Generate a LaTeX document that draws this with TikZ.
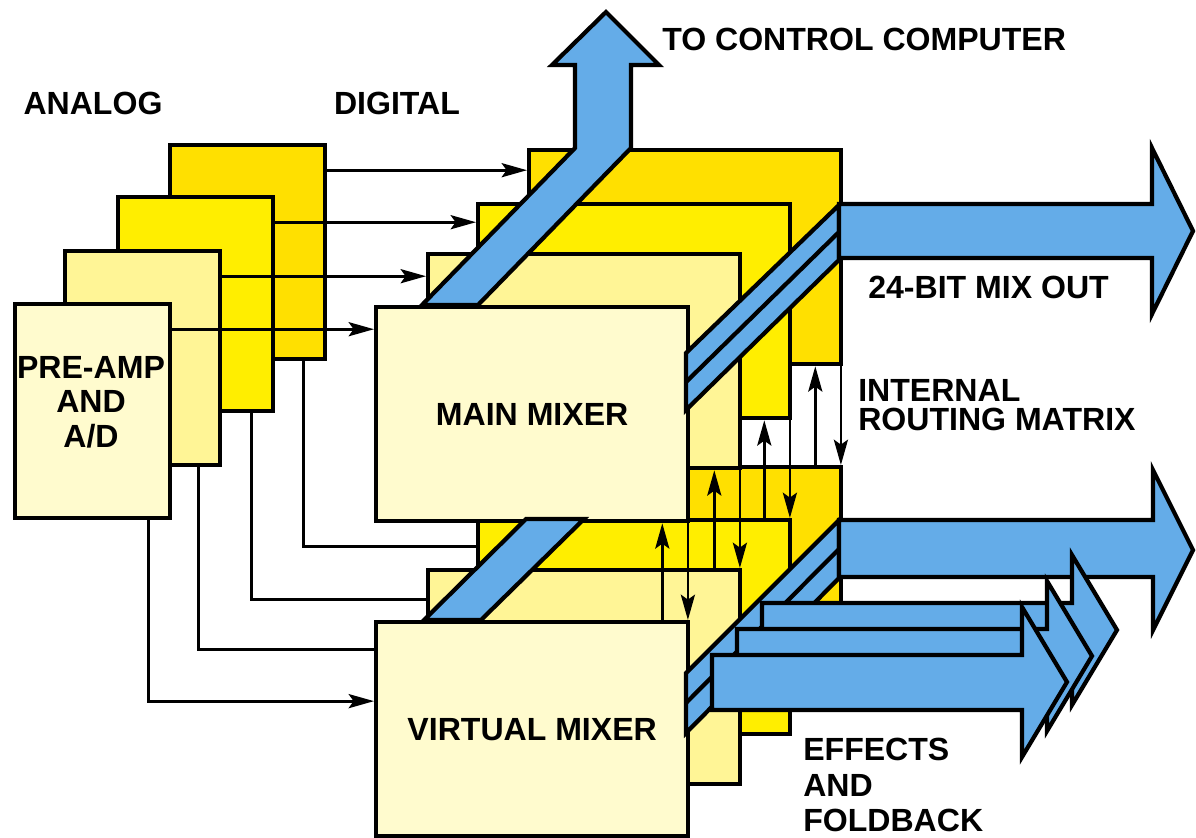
\documentclass[tikz,border=0pt]{standalone}
\usepackage{fontspec}
\setmainfont{Liberation Sans}
\usetikzlibrary{arrows.meta}
\pgfdeclarelayer{back}
\pgfsetlayers{back,main}

\definecolor{cream}{RGB}{255,251,206}
\definecolor{paleyellow}{RGB}{255,245,150}
\definecolor{brightyellow}{RGB}{255,238,0}
\definecolor{deepyellow}{RGB}{255,224,0}
\definecolor{busblue}{RGB}{100,172,232}
\newcommand\diagfont{\fontsize{22.8}{24.5}\selectfont\bfseries}

\begin{document}
\begin{tikzpicture}[
  x=0.025cm,y=-0.025cm,>={Stealth[length=18pt,width=10pt,inset=3.5pt]},
  card/.style={draw,line width=3pt,anchor=north west,minimum width=7.8cm,minimum height=5.35cm,inner sep=0pt,align=center,font=\diagfont},
  ampcard/.style={card,minimum width=3.875cm},
  conn/.style={->,line width=2.1pt},
  route/.style={->,line width=1.9pt},
  bus/.style={draw,line width=3pt,line join=miter,fill=busblue},
  txt/.style={inner sep=0pt,font=\diagfont}
]
\useasboundingbox (0,0) rectangle (1196,837);

% analog side
\node[ampcard,fill=deepyellow] (p3) at (168,143) {};
\node[ampcard,fill=brightyellow] (p2) at (116,195) {};
\node[ampcard,fill=paleyellow] (p1) at (63,249) {};
\node[ampcard,fill=cream] (p0) at (13,302) {};
\node[txt,align=center] (preamp) at (91,402) {PRE-AMP\\AND\\A/D};

% virtual mixer stack
\node[card,fill=deepyellow] (v3) at (527,465) {};
\node[card,fill=brightyellow] (v2) at (476,518) {};
\node[card,fill=paleyellow] (v1) at (426,568) {};
\node[card,fill=cream] (v0) at (374,620) {VIRTUAL MIXER};

% main mixer stack
\node[card,fill=deepyellow] (m3) at (527,148) {};
\node[card,fill=brightyellow] (m2) at (476,202) {};
\node[card,fill=paleyellow] (m1) at (426,252) {};
\node[card,fill=cream] (m0) at (374,305) {MAIN MIXER};

\foreach \i in {0,...,3}{
  \coordinate (a\i) at ([yshift=-0.68cm]p\i.north east);
  \draw[conn] (a\i) -- (a\i -| m\i.west);
}
\begin{pgfonlayer}{back}
  \fill[white] (0,0) rectangle (1196,837);
  \foreach \i in {0,...,3}
    \draw[conn] ([xshift=-0.6cm]p\i.south east) |- ([yshift=0.7cm]v\i.west);
\end{pgfonlayer}

% routing matrix
\foreach \i in {0,...,3}{
  \draw[route] ([xshift=-0.7cm]v\i.north east) -- ([xshift=-0.7cm]m\i.south east);
  \draw[route] ([xshift=-0.06cm]m\i.south east) -- ([xshift=-0.06cm]v\i.north east);
}

% buses
\draw[bus] (422,305) -- (575,148) -- (575,65) -- (552,65) -- (606,12) -- (659,65) -- (631,65) -- (631,148) -- (478,305) -- cycle;
\draw[bus] (424,620) -- (526,519) -- (584,519) -- (481,620) -- cycle;

\draw[bus] (686,353) -- (839,205) -- (839,260) -- (686,410) -- cycle;
\draw[line width=3pt] (686,382) -- (839,232);
\draw[bus] (839,204) -- (1152,204) -- (1152,148) -- (1193,231) -- (1152,314) -- (1152,258) -- (839,258) -- cycle;

\draw[bus] (686,673) -- (839,520) -- (839,578) -- (686,733) -- cycle;
\draw[line width=3pt] (686,703) -- (839,549);
\draw[bus] (839,520) -- (1153,520) -- (1153,470) -- (1193,550) -- (1153,630) -- (1153,577) -- (839,577) -- cycle;
\foreach \k in {0,1,2}
  \draw[bus,shift={(-25*\k,26*\k)}] (762,603) -- (1072,603) -- (1072,555) -- (1117,630) -- (1072,705) -- (1072,658) -- (762,658) -- cycle;

% labels
\node[txt,anchor=west] (tocomputer) at (662,39) {TO CONTROL COMPUTER};
\node[txt] (analog) at (93,103) {ANALOG};
\node[txt] (digital) at (397,103) {DIGITAL};
\node[txt,anchor=west] (mixout) at (868,287) {24-BIT MIX OUT};
\node[txt,anchor=west,align=left,font={\fontsize{22.8}{21}\selectfont\bfseries}] (routing) at (858,405) {INTERNAL\\ROUTING MATRIX};
\node[txt,anchor=west,align=left,font={\fontsize{22.8}{25.5}\selectfont\bfseries}] (effects) at (803,785) {EFFECTS\\AND\\FOLDBACK};
\end{tikzpicture}
\end{document}
